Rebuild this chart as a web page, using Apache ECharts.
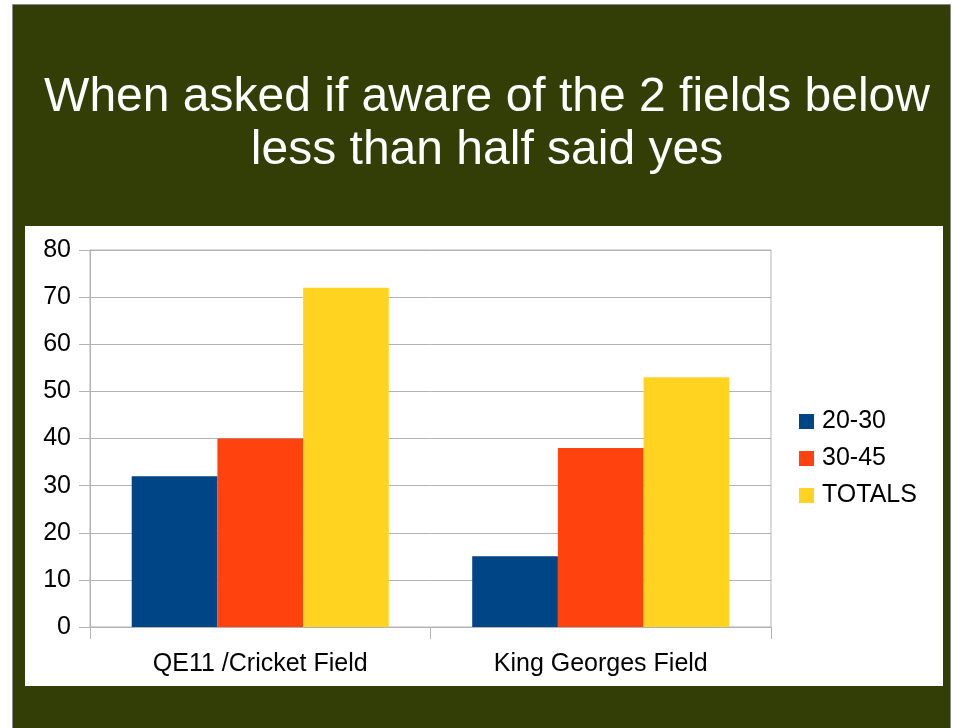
<!DOCTYPE html>
<html>
<head>
<meta charset="utf-8">
<script src="https://cdn.jsdelivr.net/npm/echarts@6/dist/echarts.min.js"></script>
<style>
html,body{margin:0;padding:0;background:#fff;}
#chart{width:953px;height:728px;}
</style>
</head>
<body>
<div id="chart"></div>
<script>
const titleLines = ['When asked if aware of the 2 fields below', 'less than half said yes'];
const categories = ['QE11 /Cricket Field', 'King Georges Field'];
const seriesNames = ['20-30', '30-45', 'TOTALS'];
const values2030 = [32, 15];
const values3045 = [40, 38];
const valuesTotals = [72, 53];
const seriesColors = ['#004586', '#ff420e', '#ffd320'];

const FONT = '"Liberation Sans", Arial, sans-serif';
const chart = echarts.init(document.getElementById('chart'), null, {renderer: 'canvas'});

const seriesData = [values2030, values3045, valuesTotals];

chart.setOption({
  animation: false,
  backgroundColor: '#ffffff',
  textStyle: {fontFamily: FONT},
  graphic: {
    elements: [
      {type: 'rect', z: -10, silent: true,
       shape: {x: 12.5, y: 4.5, width: 938, height: 730},
       style: {fill: '#333e07', stroke: '#8a8a8a', lineWidth: 1}},
      {type: 'rect', z: -9, silent: true,
       shape: {x: 25, y: 226, width: 918, height: 460},
       style: {fill: '#ffffff'}}
    ]
  },
  title: {
    text: titleLines.join('\n'),
    left: 487,
    textAlign: 'center',
    top: 71,
    padding: 0,
    textStyle: {
      color: '#ffffff',
      fontFamily: FONT,
      fontSize: 48,
      fontWeight: 'normal',
      lineHeight: 53
    }
  },
  legend: {
    orient: 'vertical',
    left: 799,
    top: 409,
    padding: 0,
    itemWidth: 15,
    itemHeight: 15,
    itemGap: 12,
    icon: 'rect',
    data: seriesNames,
    textStyle: {color: '#000', fontSize: 25, fontFamily: FONT, padding: [0, 0, 0, 3]}
  },
  grid: {
    left: 90,
    right: 182,
    top: 250,
    bottom: 101,
    show: true,
    borderColor: '#b3b3b3',
    borderWidth: 1,
    backgroundColor: 'transparent'
  },
  xAxis: {
    type: 'category',
    data: categories,
    axisLine: {show: true, lineStyle: {color: '#b3b3b3', width: 1}},
    axisTick: {show: true, length: 12, alignWithLabel: false, lineStyle: {color: '#b3b3b3'}},
    axisLabel: {color: '#000', fontSize: 25, fontFamily: FONT, margin: 25},
    splitLine: {show: false}
  },
  yAxis: {
    type: 'value',
    min: 0,
    max: 80,
    interval: 10,
    axisLine: {show: true, lineStyle: {color: '#b3b3b3', width: 1}},
    axisTick: {show: true, length: 11, lineStyle: {color: '#b3b3b3'}},
    axisLabel: {color: '#000', fontSize: 25, fontFamily: FONT, margin: 19, padding: [4, 0, 0, 0]},
    splitLine: {show: true, lineStyle: {color: '#b3b3b3', width: 1}}
  },
  series: seriesNames.map((name, i) => ({
    name: name,
    type: 'bar',
    data: seriesData[i],
    barGap: '0%',
    barCategoryGap: '24.5%',
    itemStyle: {color: seriesColors[i]}
  }))
});
</script>
</body>
</html>
